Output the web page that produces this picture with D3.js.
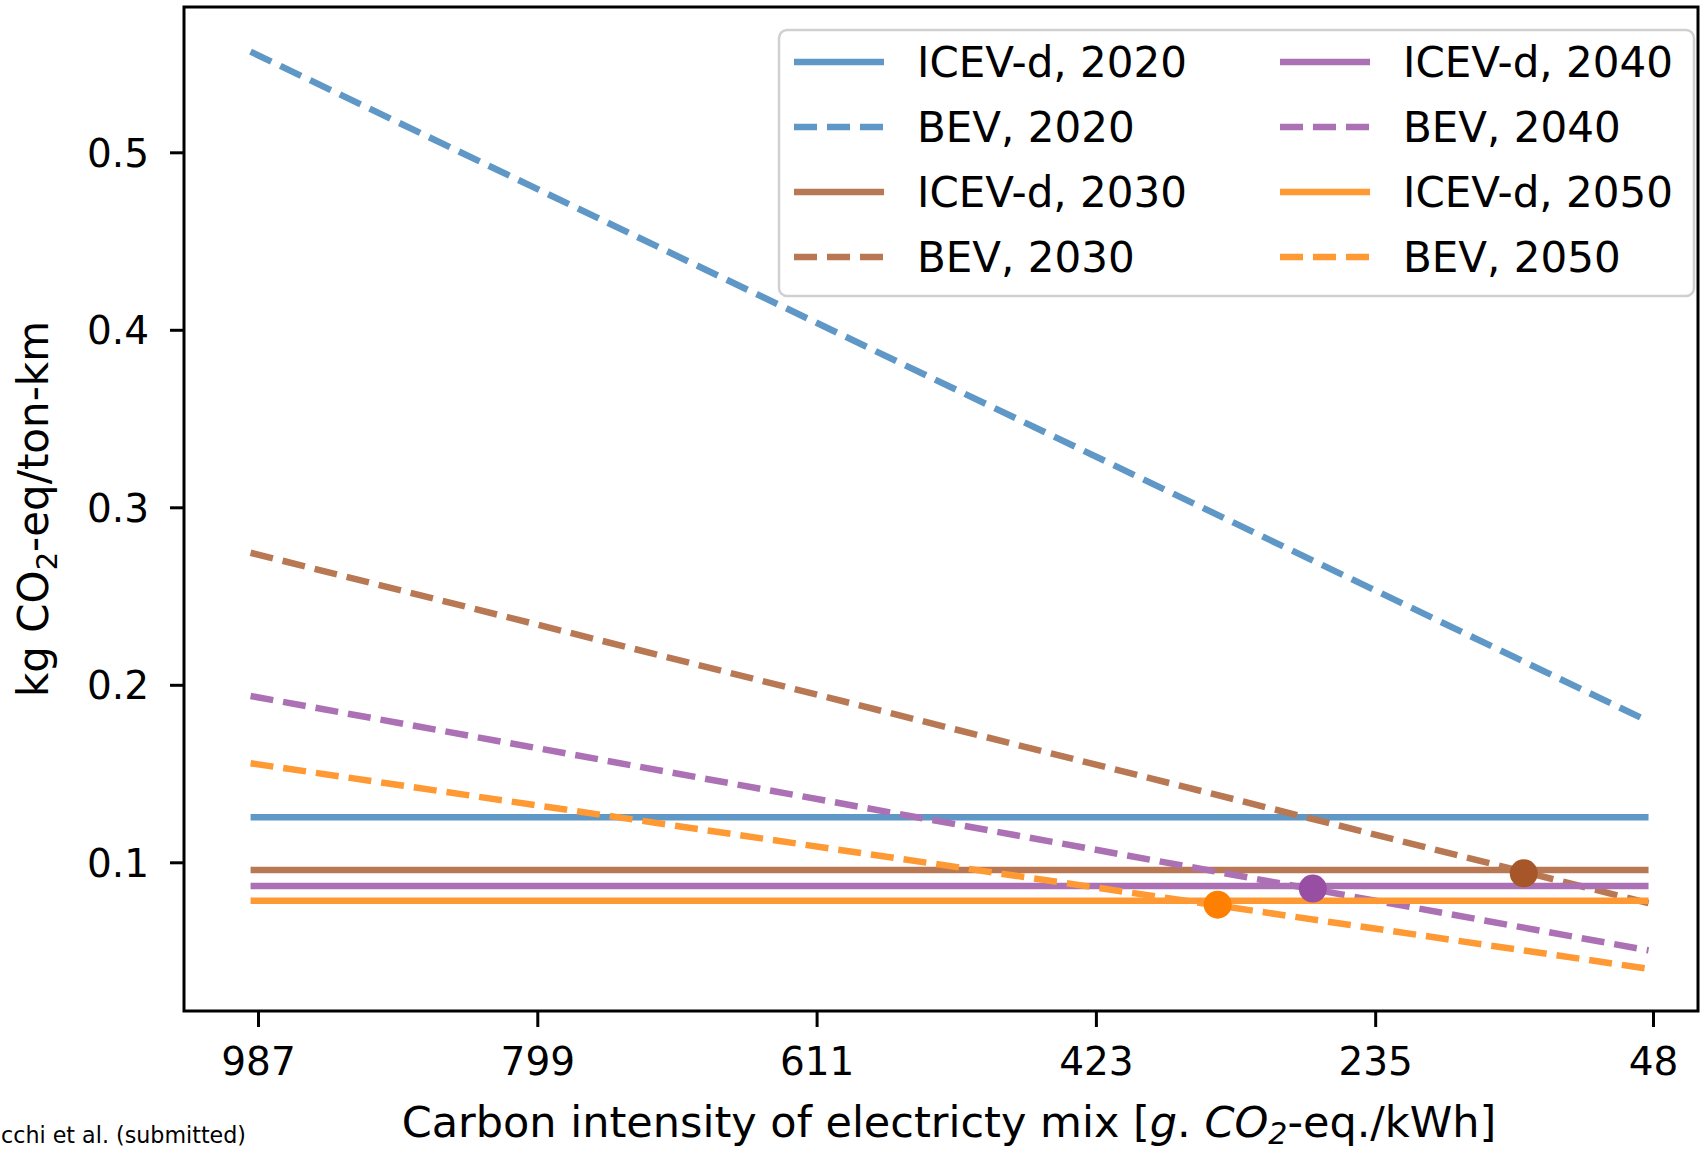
<!DOCTYPE html>
<html>
<head>
<meta charset="utf-8">
<script src="https://cdn.jsdelivr.net/npm/d3@7"></script>
<style>
  body { margin: 0; background: #fff; }
  text { font-family: "DejaVu Sans", sans-serif; fill: #000; }
</style>
</head>
<body>
<div id="chart"></div>
<script>
// data
var years = [2020, 2030, 2040, 2050];
var icevValues = [0.1254, 0.0957, 0.0866, 0.0784];   // flat, does not depend on the mix
var bevStart = [0.5567, 0.2744, 0.1937, 0.1558];     // at the dirtiest mix
var bevEnd = [0.1794, 0.0770, 0.0504, 0.0400];       // at the cleanest mix
var mixRange = [992, 51];                            // g CO2-eq/kWh, start and end of each line
var xTickValues = [987, 799, 611, 423, 235, 48];
var yTickValues = [0.1, 0.2, 0.3, 0.4, 0.5];
var breakevenYears = [2030, 2040, 2050];
var breakevenMix = [135, 277, 341];
var breakevenValues = [0.0938, 0.0852, 0.0761];

var lineColors = {2020: "#5f98c6", 2030: "#b87853", 2040: "#ac71b5", 2050: "#ff9933"};
var dotColors = {2030: "#a65628", 2040: "#984ea3", 2050: "#ff7f00"};

var W = 1701, H = 1150;
var margin = {top: 7, right: 3, bottom: 139, left: 184},
    width = W - margin.left - margin.right,
    height = H - margin.top - margin.bottom;

var svg = d3.select("#chart")
  .append("svg")
  .attr("width", W)
  .attr("height", H);

var g = svg.append("g")
  .attr("transform", "translate(" + margin.left + "," + margin.top + ")");

// x runs from dirty to clean electricity
var x = d3.scaleLinear().domain([987, 48]).range([74, 1469]);
var y = d3.scaleLinear().domain([0.1, 0.5]).range([855.3, 145.3]);

// one row per line
var series = [];
years.forEach(function(yr, i){
  series.push({year: yr, kind: "ICEV-d", pts: [[mixRange[0], icevValues[i]], [mixRange[1], icevValues[i]]]});
  series.push({year: yr, kind: "BEV", pts: [[mixRange[0], bevStart[i]], [mixRange[1], bevEnd[i]]]});
});

var line = d3.line()
  .x(function(d){ return x(d[0]); })
  .y(function(d){ return y(d[1]); });

g.selectAll(".series")
  .data(series)
  .enter()
  .append("path")
  .attr("class", "series")
  .attr("d", function(d){ return line(d.pts); })
  .attr("fill", "none")
  .attr("stroke", function(d){ return lineColors[d.year]; })
  .attr("stroke-width", 6.5)
  .attr("stroke-dasharray", function(d){ return d.kind == "BEV" ? "23,10" : null; });

// breakeven points
g.selectAll(".dot")
  .data(breakevenYears)
  .enter()
  .append("circle")
  .attr("class", "dot")
  .attr("cx", function(d, i){ return x(breakevenMix[i]); })
  .attr("cy", function(d, i){ return y(breakevenValues[i]); })
  .attr("r", 14)
  .attr("fill", function(d){ return dotColors[d]; });

// axes
var xAxis = g.append("g")
  .attr("transform", "translate(0," + height + ")")
  .call(d3.axisBottom(x).tickValues(xTickValues).tickFormat(d3.format("d")).tickSize(16).tickPadding(20));
var yAxis = g.append("g")
  .call(d3.axisLeft(y).tickValues(yTickValues).tickFormat(d3.format(".1f")).tickSize(14).tickPadding(21));

[xAxis, yAxis].forEach(function(a){
  a.select(".domain").remove();
  a.selectAll(".tick line").attr("stroke", "#000").attr("stroke-width", 3);
  a.selectAll(".tick text").attr("font-size", 39).attr("fill", "#000");
});
yAxis.selectAll(".tick text").attr("dy", "0.36em");

// frame
g.append("rect")
  .attr("width", width)
  .attr("height", height)
  .attr("fill", "none")
  .attr("stroke", "#000")
  .attr("stroke-width", 3);

// legend, two columns
var legend = svg.append("g");
legend.append("rect")
  .attr("x", 779).attr("y", 30)
  .attr("width", 915).attr("height", 266)
  .attr("rx", 8)
  .attr("fill", "#fff")
  .attr("fill-opacity", 0.85)
  .attr("stroke", "#d0d0d0")
  .attr("stroke-width", 2.5);

var items = legend.selectAll(".item")
  .data(series)
  .enter()
  .append("g")
  .attr("class", "item")
  .attr("transform", function(d, i){
    var col = Math.floor(i / 4), row = i % 4;
    return "translate(" + (794 + col * 486) + "," + (62 + row * 65) + ")";
  });
items.append("line")
  .attr("x1", 0).attr("x2", 90)
  .attr("stroke", function(d){ return lineColors[d.year]; })
  .attr("stroke-width", 6.5)
  .attr("stroke-dasharray", function(d){ return d.kind == "BEV" ? "23,10" : null; });
items.append("text")
  .attr("x", 123)
  .attr("dy", "0.36em")
  .attr("font-size", 42)
  .text(function(d){ return d.kind + ", " + d.year; });

// axis titles
var yl = svg.append("text")
  .attr("transform", "translate(48," + (margin.top + height / 2) + ") rotate(-90)")
  .attr("text-anchor", "middle")
  .attr("font-size", 42);
yl.append("tspan").text("kg CO");
yl.append("tspan").attr("font-size", 29).attr("dy", 9).text("2");
yl.append("tspan").attr("dy", -9).text("-eq/ton-km");

var xl = svg.append("text")
  .attr("x", 949)
  .attr("y", 1137)
  .attr("text-anchor", "middle")
  .attr("font-size", 43);
xl.append("tspan").text("Carbon intensity of electricty mix [");
xl.append("tspan").attr("font-style", "italic").text("g");
xl.append("tspan").text(". ");
xl.append("tspan").attr("font-style", "italic").text("CO");
xl.append("tspan").attr("font-style", "italic").attr("font-size", 30).attr("dy", 7).text("2");
xl.append("tspan").attr("dy", -7).text("-eq./kWh]");

// source note, cut at the left edge
svg.append("text")
  .attr("x", 1)
  .attr("y", 1143)
  .attr("font-family", "Lato, sans-serif")
  .attr("font-size", 23)
  .attr("textLength", 245)
  .attr("lengthAdjust", "spacingAndGlyphs")
  .text("cchi et al. (submitted)");
</script>
</body>
</html>
